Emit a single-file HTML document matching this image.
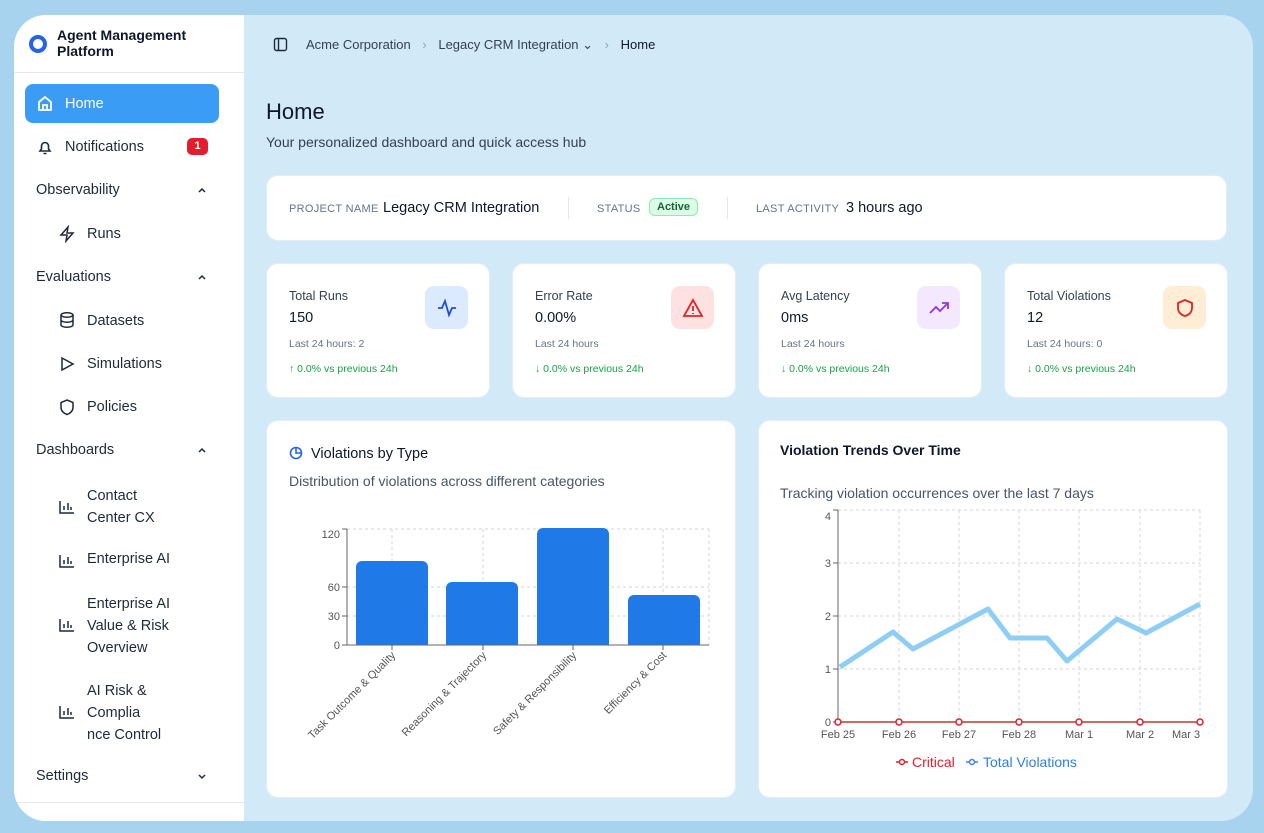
<!DOCTYPE html>
<html><head><meta charset="utf-8"><style>
*{box-sizing:border-box;margin:0;padding:0}
body{width:1264px;height:833px;overflow:hidden;background:#a8d3ef;font-family:"Liberation Sans",sans-serif;color:#0f172a;position:relative}
.frame{position:absolute;left:14px;top:15px;width:1239px;height:806px;border-radius:32px;background:#d2e9f8;overflow:hidden}
.side{position:absolute;left:0;top:0;width:230px;height:806px;background:#fff}
.abs{position:absolute}
.nav{position:absolute;left:22px;font-size:14.5px;color:#1e293b}
.card{position:absolute;background:#fff;border-radius:12px;border:1px solid #e5edf3}
.lbl{font-size:11px;color:#64748b;letter-spacing:.3px}
.kt{font-size:12.5px;color:#334155}
.kv{font-size:14.5px;color:#0f172a}
.ks{font-size:10.5px;color:#64748b}
.kg{font-size:10.5px;color:#16a34a}
.ic{position:absolute;width:43px;height:43px;border-radius:9px;display:flex;align-items:center;justify-content:center}
</style></head><body>
<div class="frame">
<div class="side">
  <svg class="abs" style="left:14px;top:19px" width="20" height="20"><circle cx="10" cy="10" r="7" fill="none" stroke="#2563eb" stroke-width="4"/></svg>
  <div class="abs" style="left:43px;top:12px;font-size:14px;font-weight:bold;line-height:16px">Agent Management<br>Platform</div>
  <div class="abs" style="left:0;top:57px;width:230px;height:1px;background:#e5e7eb"></div>
  <div class="abs" style="left:11px;top:69px;width:194px;height:39px;border-radius:8px;background:#3b9cf5"></div>
  <svg class="abs" style="left:22px;top:79px" width="18" height="18" fill="none" stroke="#fff" stroke-width="1.8"><path d="M3 8L9 3l6 5v8H3z M7 16v-5h4v5"/></svg>
  <div class="nav" style="left:51px;top:81px;color:#fff">Home</div>
  <svg class="abs" style="left:22px;top:123px" width="18" height="18" fill="none" stroke="#1e293b" stroke-width="1.6"><path d="M4 13h10l-1.5-2V8a3.5 3.5 0 0 0-7 0v3z M7.5 15.5h3"/></svg>
  <div class="nav" style="left:51px;top:124px">Notifications</div>
  <div class="abs" style="left:173px;top:123px;width:21px;height:17px;border-radius:5px;background:#e11d2e;color:#fff;font-size:11px;font-weight:bold;text-align:center;line-height:17px">1</div>
  <div class="nav" style="top:167px">Observability</div>
  <svg class="abs" style="left:182px;top:170px" width="12" height="10" fill="none" stroke="#1e293b" stroke-width="1.5"><path d="M3 7l3-3 3 3"/></svg>
  <svg class="abs" style="left:44px;top:210px" width="18" height="18" fill="none" stroke="#1e293b" stroke-width="1.5"><path d="M10 2L3 10h6l-1 6 7-8H9z"/></svg>
  <div class="nav" style="left:73px;top:211px">Runs</div>
  <div class="nav" style="top:254px">Evaluations</div>
  <svg class="abs" style="left:182px;top:257px" width="12" height="10" fill="none" stroke="#1e293b" stroke-width="1.5"><path d="M3 7l3-3 3 3"/></svg>
  <svg class="abs" style="left:44px;top:296px" width="18" height="18" fill="none" stroke="#1e293b" stroke-width="1.5"><ellipse cx="9" cy="4" rx="6" ry="2.2"/><path d="M3 4v10c0 1.2 2.7 2.2 6 2.2s6-1 6-2.2V4M3 9c0 1.2 2.7 2.2 6 2.2s6-1 6-2.2"/></svg>
  <div class="nav" style="left:73px;top:298px">Datasets</div>
  <svg class="abs" style="left:44px;top:340px" width="18" height="18" fill="none" stroke="#1e293b" stroke-width="1.5"><path d="M4 3l11 6-11 6z"/></svg>
  <div class="nav" style="left:73px;top:341px">Simulations</div>
  <svg class="abs" style="left:44px;top:383px" width="18" height="18" fill="none" stroke="#1e293b" stroke-width="1.5"><path d="M9 2l6 2.5v5c0 3.5-3 6-6 7-3-1-6-3.5-6-7v-5z"/></svg>
  <div class="nav" style="left:73px;top:384px">Policies</div>
  <div class="nav" style="top:427px">Dashboards</div>
  <svg class="abs" style="left:182px;top:430px" width="12" height="10" fill="none" stroke="#1e293b" stroke-width="1.5"><path d="M3 7l3-3 3 3"/></svg>
  <div class="nav" style="left:73px;top:470px;line-height:22px">Contact<br>Center CX</div>
  <div class="nav" style="left:73px;top:536px">Enterprise AI</div>
  <div class="nav" style="left:73px;top:578px;line-height:22px">Enterprise AI<br>Value &amp; Risk<br>Overview</div>
  <div class="nav" style="left:73px;top:665px;line-height:22px">AI Risk &amp;<br>Complia<br>nce Control</div>
  <svg class="abs" style="left:44px;top:538px" width="18" height="16" fill="none" stroke="#1e293b" stroke-width="1.5"><path d="M2 2v12h14M6 11V7M10 11V4M13 11V8"/></svg>
  <svg class="abs" style="left:44px;top:484px" width="18" height="16" fill="none" stroke="#1e293b" stroke-width="1.5"><path d="M2 2v12h14M6 11V7M10 11V4M13 11V8"/></svg>
  <svg class="abs" style="left:44px;top:602px" width="18" height="16" fill="none" stroke="#1e293b" stroke-width="1.5"><path d="M2 2v12h14M6 11V7M10 11V4M13 11V8"/></svg>
  <svg class="abs" style="left:44px;top:689px" width="18" height="16" fill="none" stroke="#1e293b" stroke-width="1.5"><path d="M2 2v12h14M6 11V7M10 11V4M13 11V8"/></svg>
  <div class="nav" style="top:753px">Settings</div>
  <svg class="abs" style="left:182px;top:756px" width="12" height="10" fill="none" stroke="#1e293b" stroke-width="1.5"><path d="M3 4l3 3 3-3"/></svg>
  <div class="abs" style="left:0;top:787px;width:230px;height:1px;background:#e5e7eb"></div>
</div>
<svg class="abs" style="left:259px;top:22px" width="15" height="15" fill="none" stroke="#1e293b" stroke-width="1.4"><rect x="1.5" y="1.5" width="12" height="12" rx="2"/><path d="M5.5 1.5v12"/></svg>
<div class="abs" style="left:292px;top:22px;font-size:13px;color:#334155">Acme Corporation <span style="color:#94a3b8;margin:0 8px">›</span> Legacy CRM Integration ⌄ <span style="color:#94a3b8;margin:0 8px">›</span> <span style="color:#0f172a">Home</span></div>
<div class="abs" style="left:252px;top:84px;font-size:22px;font-weight:500">Home</div>
<div class="abs" style="left:252px;top:119px;font-size:14px;color:#334155">Your personalized dashboard and quick access hub</div>

<div class="card" style="left:252px;top:160px;width:961px;height:66px">
  <span class="abs lbl" style="left:22px;top:27px">PROJECT NAME</span>
  <span class="abs" style="left:116px;top:24px;font-size:14.5px">Legacy CRM Integration</span>
  <div class="abs" style="left:301px;top:21px;width:1px;height:22px;background:#e2e8f0"></div>
  <span class="abs lbl" style="left:330px;top:27px">STATUS</span>
  <span class="abs" style="left:382px;top:22px;padding:2px 7px;border-radius:6px;background:#dcfce7;border:1px solid #86efac;color:#166534;font-size:11px;font-weight:bold">Active</span>
  <div class="abs" style="left:460px;top:21px;width:1px;height:22px;background:#e2e8f0"></div>
  <span class="abs lbl" style="left:489px;top:27px">LAST ACTIVITY</span>
  <span class="abs" style="left:579px;top:24px;font-size:14.5px">3 hours ago</span>
</div>

<div class="card" style="left:252px;top:248px;width:224px;height:135px">
 <div class="abs kt" style="left:22px;top:25px">Total Runs</div><div class="abs kv" style="left:22px;top:46px">150</div>
 <div class="abs ks" style="left:22px;top:74px">Last 24 hours: 2</div><div class="abs kg" style="left:22px;top:99px">↑ 0.0% vs previous 24h</div>
 <div class="ic" style="left:158px;top:22px;background:#dbeafe"><svg width="20" height="20" fill="none" stroke="#1d4ed8" stroke-width="1.8"><path d="M1 10h4l3-7 4 14 3-7h4"/></svg></div>
</div>
<div class="card" style="left:498px;top:248px;width:224px;height:135px">
 <div class="abs kt" style="left:22px;top:25px">Error Rate</div><div class="abs kv" style="left:22px;top:46px">0.00%</div>
 <div class="abs ks" style="left:22px;top:74px">Last 24 hours</div><div class="abs kg" style="left:22px;top:99px">↓ 0.0% vs previous 24h</div>
 <div class="ic" style="left:158px;top:22px;background:#fee2e2"><svg width="22" height="20" fill="none" stroke="#dc2626" stroke-width="1.8"><path d="M11 2L2 18h18z M11 8v5 M11 15v1"/></svg></div>
</div>
<div class="card" style="left:744px;top:248px;width:224px;height:135px">
 <div class="abs kt" style="left:22px;top:25px">Avg Latency</div><div class="abs kv" style="left:22px;top:46px">0ms</div>
 <div class="abs ks" style="left:22px;top:74px">Last 24 hours</div><div class="abs kg" style="left:22px;top:99px">↓ 0.0% vs previous 24h</div>
 <div class="ic" style="left:158px;top:22px;background:#f3e8ff"><svg width="22" height="20" fill="none" stroke="#9333ea" stroke-width="1.8"><path d="M2 15l6-6 4 4 8-8 M14 5h6v6"/></svg></div>
</div>
<div class="card" style="left:990px;top:248px;width:224px;height:135px">
 <div class="abs kt" style="left:22px;top:25px">Total Violations</div><div class="abs kv" style="left:22px;top:46px">12</div>
 <div class="abs ks" style="left:22px;top:74px">Last 24 hours: 0</div><div class="abs kg" style="left:22px;top:99px">↓ 0.0% vs previous 24h</div>
 <div class="ic" style="left:158px;top:22px;background:#ffedd5"><svg width="20" height="20" fill="none" stroke="#dc2626" stroke-width="1.8"><path d="M10 2l7 3v5c0 4-3 7-7 8-4-1-7-4-7-8V5z"/></svg></div>
</div>

<div class="card" style="left:252px;top:405px;width:470px;height:378px"></div>
<div class="card" style="left:744px;top:405px;width:470px;height:378px"></div>
</div>

<svg class="abs" style="left:0;top:0" width="1264" height="833" font-family="Liberation Sans, sans-serif">
 <circle cx="296" cy="453" r="5.5" fill="none" stroke="#2563eb" stroke-width="1.6"/><path d="M296 447.5V453h5.5" fill="none" stroke="#2563eb" stroke-width="1.6"/>
 <text x="311" y="458" font-size="14.5" fill="#0f172a">Violations by Type</text>
 <text x="289" y="486" font-size="14" fill="#475569">Distribution of violations across different categories</text>
 <g stroke="#d4d4d4" stroke-dasharray="3 3" stroke-width="1">
  <path d="M347 529H709M347 587H709M347 616H709M392 529V645M483 529V645M573 529V645M663 529V645M709 529V645"/>
 </g>
 <g fill="#1f7ae8">
  <path d="M356 645V567a6 6 0 0 1 6-6h60a6 6 0 0 1 6 6V645z"/>
  <path d="M446 645V588a6 6 0 0 1 6-6h60a6 6 0 0 1 6 6V645z"/>
  <path d="M537 645V534a6 6 0 0 1 6-6h60a6 6 0 0 1 6 6V645z"/>
  <path d="M628 645V601a6 6 0 0 1 6-6h60a6 6 0 0 1 6 6V645z"/>
 </g>
 <path d="M347 529V645H709M342 529h5M342 587h5M342 616h5M342 645h5M392 645v5M483 645v5M573 645v5M663 645v5" stroke="#666" fill="none"/>
 <g font-size="11" fill="#555" text-anchor="end"><text x="340" y="538">120</text><text x="340" y="591">60</text><text x="340" y="620">30</text><text x="340" y="649">0</text></g>
 <g font-size="11" fill="#555" text-anchor="end">
  <text transform="translate(396,656) rotate(-45)">Task Outcome &amp; Quality</text>
  <text transform="translate(487,656) rotate(-45)">Reasoning &amp; Trajectory</text>
  <text transform="translate(577,656) rotate(-45)">Safety &amp; Responsibility</text>
  <text transform="translate(667,656) rotate(-45)">Efficiency &amp; Cost</text>
 </g>

 <text x="780" y="455" font-size="14" font-weight="bold" fill="#0f172a">Violation Trends Over Time</text>
 <text x="780" y="498" font-size="14" fill="#475569">Tracking violation occurrences over the last 7 days</text>
 <g stroke="#d4d4d4" stroke-dasharray="3 3">
  <path d="M838 510H1200M838 563H1200M838 616H1200M838 669H1200M899 510V722M959 510V722M1019 510V722M1079 510V722M1140 510V722M1200 510V722"/>
 </g>
 <path d="M838 510V722M833 510h5M833 563h5M833 616h5M833 669h5M833 722h5" stroke="#666" fill="none"/>
 <g font-size="11" fill="#555" text-anchor="end"><text x="831" y="520">4</text><text x="831" y="567">3</text><text x="831" y="620">2</text><text x="831" y="673">1</text><text x="831" y="726">0</text></g>
 <polyline points="840,667 893,632 913,649 988,609 1010,638 1047,638 1067,661 1117,619 1146,633 1200,604" fill="none" stroke="#8ecdf4" stroke-width="5" stroke-linejoin="round"/>
 <path d="M838 722H1200" stroke="#c0392b" stroke-width="1.5"/>
 <g fill="#fff" stroke="#e11d2e" stroke-width="1.5"><circle cx="838" cy="722" r="3"/><circle cx="899" cy="722" r="3"/><circle cx="959" cy="722" r="3"/><circle cx="1019" cy="722" r="3"/><circle cx="1079" cy="722" r="3"/><circle cx="1140" cy="722" r="3"/><circle cx="1200" cy="722" r="3"/></g>
 <g font-size="11" fill="#555" text-anchor="middle"><text x="838" y="738">Feb 25</text><text x="899" y="738">Feb 26</text><text x="959" y="738">Feb 27</text><text x="1019" y="738">Feb 28</text><text x="1079" y="738">Mar 1</text><text x="1140" y="738">Mar 2</text><text x="1186" y="738">Mar 3</text></g>
 <path d="M896 762h12" stroke="#e11d2e" stroke-width="1.5"/><circle cx="902" cy="762" r="2.5" fill="#fff" stroke="#e11d2e" stroke-width="1.5"/>
 <text x="912" y="767" font-size="14" fill="#e11d2e">Critical</text>
 <path d="M966 762h12" stroke="#3b82f6" stroke-width="1.5"/><circle cx="972" cy="762" r="2.5" fill="#fff" stroke="#3b82f6" stroke-width="1.5"/>
 <text x="983" y="767" font-size="14" fill="#2f7fe0">Total Violations</text>
</svg>
</body></html>
